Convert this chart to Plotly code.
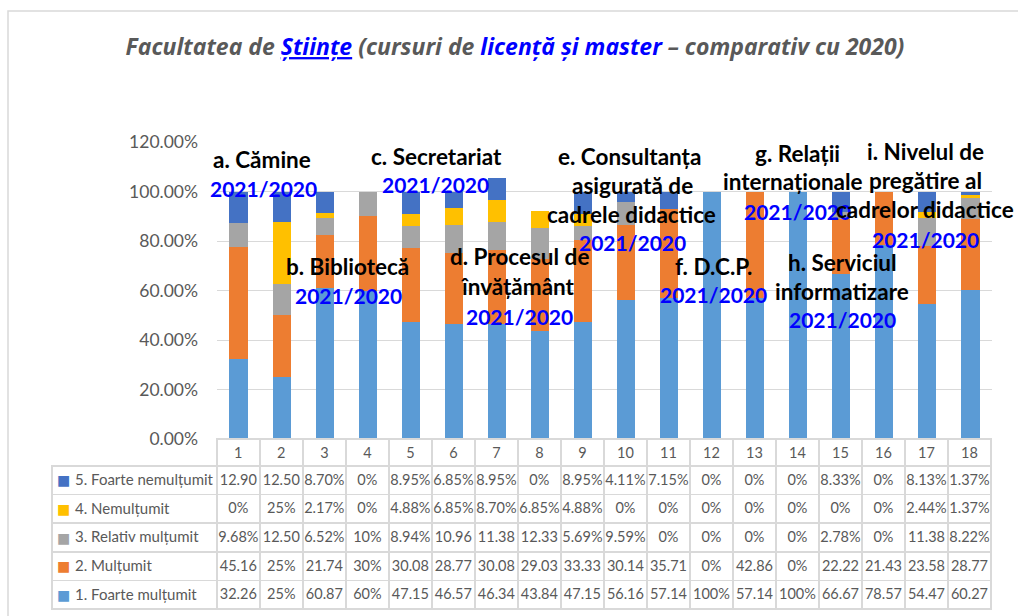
import plotly.graph_objects as go

W, H = 1018, 616

categories = [str(i) for i in range(1, 19)]
series_names = ["1. Foarte mulțumit", "2. Mulțumit", "3. Relativ mulțumit",
                "4. Nemulțumit", "5. Foarte nemulțumit"]
series_colors = ["#5B9BD5", "#ED7D31", "#A5A5A5", "#FFC000", "#4472C4"]

foarte_multumit = [32.26, 25, 60.87, 60, 47.15, 46.57, 46.34, 43.84, 47.15, 56.16,
                   57.14, 100, 57.14, 100, 66.67, 78.57, 54.47, 60.27]
multumit = [45.16, 25, 21.74, 30, 30.08, 28.77, 30.08, 29.03, 33.33, 30.14,
            35.71, 0, 42.86, 0, 22.22, 21.43, 23.58, 28.77]
relativ_multumit = [9.68, 12.50, 6.52, 10, 8.94, 10.96, 11.38, 12.33, 5.69, 9.59,
                    0, 0, 0, 0, 2.78, 0, 11.38, 8.22]
nemultumit = [0, 25, 2.17, 0, 4.88, 6.85, 8.70, 6.85, 4.88, 0,
              0, 0, 0, 0, 0, 0, 2.44, 1.37]
foarte_nemultumit = [12.90, 12.50, 8.70, 0, 8.95, 6.85, 8.95, 0, 8.95, 4.11,
                     7.15, 0, 0, 0, 8.33, 0, 8.13, 1.37]

series_values = [foarte_multumit, multumit, relativ_multumit, nemultumit, foarte_nemultumit]

title_html = ("<b><i>Facultatea de <span style='color:#0000FF'><u>Științe</u></span>"
              " (cursuri de <span style='color:#0000FF'>licență și master</span>"
              " – comparativ cu 2020)</i></b>")

# overlay labels: (text, x px, y px, is_year)
labels = [
    ("a. Cămine", 262, 160, False), ("2021/2020", 263, 188, True),
    ("b. Bibliotecă", 347, 266, False), ("2021/2020", 348, 295, True),
    ("c. Secretariat", 436, 156, False), ("2021/2020", 435, 184, True),
    ("d. Procesul de", 519, 257, False), ("învățământ", 518, 286, False), ("2021/2020", 519, 316, True),
    ("e. Consultanța", 629, 156, False), ("asigurată de", 632, 185, False),
    ("cadrele didactice", 631, 214, False), ("2021/2020", 632, 243, True),
    ("f. D.C.P.", 713, 266, False), ("2021/2020", 713, 294, True),
    ("g. Relații", 797, 153, False), ("internaționale", 793, 182, False), ("2021/2020", 797, 212, True),
    ("h. Serviciul", 842, 262, False), ("informatizare", 842, 291, False), ("2021/2020", 842, 320, True),
    ("i. Nivelul de", 925, 152, False), ("pregătire al", 925, 181, False),
    ("cadrelor didactice", 925, 210, False), ("2021/2020", 925, 239, True),
]


def fmt(v):
    if float(v).is_integer():
        return f"{int(v)}%"
    s = f"{v:.2f}"
    return s + "%" if v < 10 else s


FONT = "Lato"
GRAY = "#595959"
LINE = "#D9D9D9"
NBSP = "\u00a0"

fig = go.Figure()

plot_x0, plot_x1 = 217, 992
y0_px, y120_px = 439, 142

for name, vals, col in zip(series_names, series_values, series_colors):
    fig.add_trace(go.Bar(
        x=categories, y=[v / 100 for v in vals], name=name,
        marker=dict(color=col, line=dict(width=0)),
        showlegend=False, hoverinfo="x+y+name",
    ))

# data table (header row = category labels), rows from series 5 down to 1
order = list(range(4, -1, -1))
label_col = ["\u2002\u2002" + series_names[i].replace(" ", NBSP) for i in order]
cols = [label_col]
for c in range(len(categories)):
    cols.append([fmt(series_values[i][c]) for i in order])

n = len(categories)
header_line = ["rgba(0,0,0,0)"] + [LINE] * n
header_fill = ["rgba(0,0,0,0)"] + ["white"] * n

hdr_h, row_h = 27, 28.6
tbl_top, tbl_bot = 439, 614
fig.add_trace(go.Table(
    domain=dict(x=[52 / W, plot_x1 / W], y=[1 - tbl_bot / H, 1 - tbl_top / H]),
    columnwidth=[165] + [43.06] * n,
    header=dict(values=[""] + categories, height=hdr_h,
                fill=dict(color=header_fill), line=dict(color=header_line, width=1.5),
                font=dict(family=FONT, size=14.5, color=GRAY), align="center"),
    cells=dict(values=cols, height=row_h,
               fill=dict(color="white"), line=dict(color=LINE, width=1.5),
               font=dict(family=FONT, size=[15] + [14.5] * n, color=GRAY),
               align=["left"] + ["center"] * n),
))

annotations = []
for text, px, py, is_year in labels:
    annotations.append(dict(
        text=f"<b>{text}</b>", x=px / W, y=1 - py / H, xref="paper", yref="paper",
        xanchor="center", yanchor="middle", showarrow=False,
        font=dict(family=FONT, size=21 if is_year else 22.5,
                  color="#0000FF" if is_year else "#000000"),
    ))

# legend keys inside the table's label column
for r, i in enumerate(order):
    cy = tbl_top + hdr_h + row_h * (r + 0.5)
    annotations.append(dict(
        text="■", x=63 / W, y=1 - cy / H, xref="paper", yref="paper",
        xanchor="center", yanchor="middle", showarrow=False,
        font=dict(family="DejaVu Sans", size=14, color=series_colors[i]),
    ))

fig.update_layout(
    width=W, height=H,
    margin=dict(l=0, r=0, t=0, b=0, autoexpand=False),
    paper_bgcolor="white", plot_bgcolor="white",
    barmode="stack", bargap=0.58,
    title=dict(text=title_html, x=515 / W, y=1 - 47 / H, xanchor="center", yanchor="middle",
               font=dict(family="Open Sans", size=23, color=GRAY)),
    xaxis=dict(domain=[plot_x0 / W, plot_x1 / W], showticklabels=False, ticks="",
               showgrid=False, showline=False, zeroline=False, automargin=False),
    yaxis=dict(domain=[1 - y0_px / H, 1 - y120_px / H], range=[0, 1.2], dtick=0.2,
               tickformat=".2%", showgrid=True, gridcolor=LINE, gridwidth=1.3,
               zeroline=False, showline=False, ticks="", automargin=False,
               ticklabelstandoff=18,
               tickfont=dict(family=FONT, size=17.5, color=GRAY)),
    annotations=annotations,
    shapes=[dict(type="rect", xref="paper", yref="paper", x0=8 / W, x1=1.02,
                 y0=-0.02, y1=1 - 11 / H, line=dict(color=LINE, width=1.5),
                 fillcolor="rgba(0,0,0,0)", layer="below")],
)

fig.write_html("out.html", config={"displayModeBar": False},
               post_script="document.body.style.margin='0px';document.body.style.overflow='hidden';")
